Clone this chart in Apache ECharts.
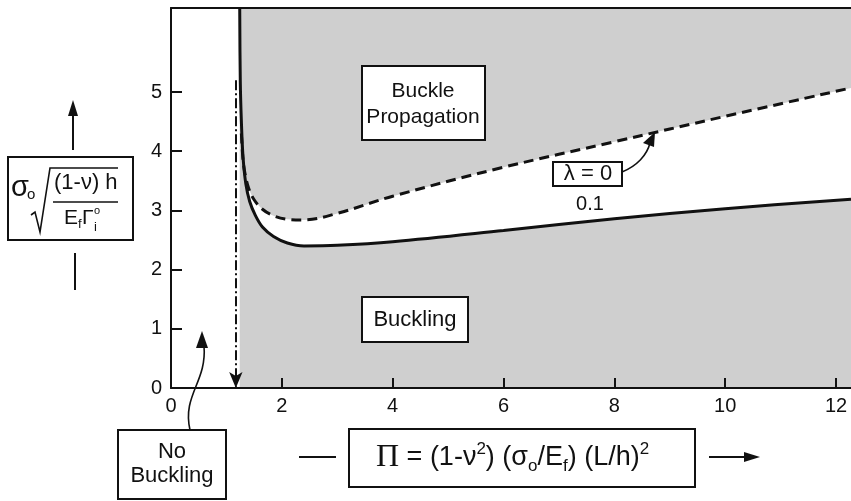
<!DOCTYPE html>
<html>
<head>
<meta charset="utf-8">
<script src="https://cdn.jsdelivr.net/npm/echarts@6/dist/echarts.min.js"></script>
<style>
  html, body { margin: 0; padding: 0; background: #fff; }
  #chart { width: 851px; height: 501px; }
</style>
</head>
<body>
<div id="chart"></div>
<script>
// axis ranges and ticks
const xMax = 12.27
const yMax = 6.42
const xLabels = [0, 2, 4, 6, 8, 10, 12]
const xTicks = [2, 4, 6, 8, 10, 12]
const yLabels = [0, 1, 2, 3, 4, 5]
const yTicks = [1, 2, 3, 4, 5]

// no buckling below this Pi, and the dash-dot guide just left of it
const noBucklingLimit = 1.24
const guideX = 1.17
const guideTop = 5.2

// lambda = 0.1 (solid) and lambda = 0 (dashed)
const solidCurve = [
  [1.24, 6.42], [1.25, 5.2], [1.27, 4.5], [1.3, 3.9], [1.35, 3.45], [1.42, 3.15],
  [1.52, 2.92], [1.65, 2.72], [1.85, 2.56], [2.1, 2.45], [2.4, 2.4], [3, 2.41],
  [4, 2.47], [6, 2.66], [8, 2.86], [10, 3.03], [12.27, 3.19]
]
const dashedCurve = [
  [1.27, 4.3], [1.3, 3.85], [1.34, 3.6], [1.4, 3.38], [1.5, 3.18], [1.65, 3.02],
  [1.85, 2.91], [2.1, 2.85], [2.4, 2.84], [3, 2.95], [4, 3.24], [6, 3.73],
  [8, 4.16], [10, 4.59], [12.27, 5.07]
]

const gray = '#cfcfcf'
const ink = '#111'
const sans = 'Liberation Sans, Arial, sans-serif'

var myChart = echarts.init(document.getElementById('chart'))

function box(x, y, w, h) {
  return { type: 'rect', shape: { x: x, y: y, width: w, height: h }, style: { fill: '#fff', stroke: ink, lineWidth: 2 }, z: 100 }
}
function txt(x, y, text, size, align, family) {
  return {
    type: 'text', z: 101,
    style: { x: x, y: y, text: text, fill: ink, font: size + 'px ' + (family || sans), textAlign: align || 'center', textVerticalAlign: 'middle' }
  }
}
function seg(x1, y1, x2, y2, w) {
  return { type: 'line', z: 101, shape: { x1: x1, y1: y1, x2: x2, y2: y2 }, style: { stroke: ink, lineWidth: w || 2 } }
}
function head(points) {
  return { type: 'polygon', z: 101, shape: { points: points }, style: { fill: ink } }
}

var option = {
  animation: false,
  grid: { left: 171, top: 8, width: 682, height: 380 },
  xAxis: [
    {
      type: 'value', min: 0, max: xMax, z: 10,
      axisLine: { lineStyle: { color: ink, width: 2 } },
      axisTick: { inside: true, length: 10, customValues: xTicks, lineStyle: { color: ink, width: 2 } },
      axisLabel: { customValues: xLabels, color: ink, fontFamily: sans, fontSize: 20, margin: 8 },
      splitLine: { show: false }
    },
    {
      type: 'value', position: 'top', min: 0, max: xMax, z: 10,
      axisLine: { lineStyle: { color: ink, width: 2 } },
      axisTick: { show: false }, axisLabel: { show: false }, splitLine: { show: false }
    }
  ],
  yAxis: {
    type: 'value', min: 0, max: yMax, z: 10,
    axisLine: { show: true, lineStyle: { color: ink, width: 2 } },
    axisTick: { show: true, inside: true, length: 11, customValues: yTicks, lineStyle: { color: ink, width: 2 } },
    axisLabel: { customValues: yLabels, color: ink, fontFamily: sans, fontSize: 20, margin: 9 },
    splitLine: { show: false }
  },
  series: [
    {
      // shaded buckling region
      type: 'line', silent: true, symbol: 'none',
      data: [[noBucklingLimit, yMax], [xMax, yMax]],
      lineStyle: { width: 0 }, areaStyle: { color: gray, opacity: 1 }
    },
    {
      // white band between the curves
      type: 'line', silent: true, symbol: 'none', smooth: 0.35,
      data: dashedCurve,
      lineStyle: { width: 0 }, areaStyle: { color: '#fff', opacity: 1 }
    },
    {
      type: 'line', silent: true, symbol: 'none', smooth: 0.35,
      data: solidCurve,
      lineStyle: { color: ink, width: 3 }, areaStyle: { color: gray, opacity: 1 }
    },
    {
      type: 'line', silent: true, symbol: 'none', smooth: 0.35,
      data: dashedCurve,
      lineStyle: { color: ink, width: 3, type: [10, 6] }
    },
    {
      type: 'line', silent: true, symbol: 'none', data: [],
      markLine: {
        silent: true, symbol: ['none', 'arrow'], symbolSize: [10, 16], label: { show: false },
        lineStyle: { color: ink, width: 2, type: [10, 3, 2, 3] },
        data: [[{ coord: [guideX, guideTop] }, { coord: [guideX, 0] }]]
      }
    }
  ],
  graphic: [
    // y axis label
    box(8, 157, 125, 83),
    txt(11, 188, 'σ', 29, 'left'),
    txt(27, 195, 'o', 15, 'left'),
    { type: 'polyline', z: 101, shape: { points: [[31, 215], [35, 212], [40, 232], [50, 168], [118, 168]] }, style: { stroke: ink, lineWidth: 1.6, fill: null } },
    txt(54, 183, '(1-ν) h', 22, 'left'),
    seg(53, 202, 118, 202, 1.6),
    txt(64, 218, 'E', 21, 'left'),
    txt(78, 224, 'f', 13, 'left'),
    txt(82, 218, 'Γ', 21, 'left'),
    txt(94, 227, 'i', 13, 'left'),
    txt(94, 211, 'o', 11, 'left'),
    seg(73, 150, 73, 112, 2),
    head([[73, 100], [68, 116], [78, 116]]),
    seg(75, 253, 75, 290, 2),

    // x axis label
    box(349, 429, 346, 58),
    {
      type: 'text', z: 101,
      style: {
        x: 376, y: 458, textAlign: 'left', textVerticalAlign: 'middle', fill: ink,
        text: '{P|Π}{n| = (1-ν}{sup|2}{n|) (σ}{sub|o}{n|/E}{sub|f}{n|) (L/h)}{sup|2}',
        rich: {
          P: { fontFamily: 'Liberation Serif, serif', fontSize: 32, lineHeight: 34 },
          n: { fontFamily: sans, fontSize: 27, lineHeight: 34 },
          sup: { fontFamily: sans, fontSize: 17, lineHeight: 34, verticalAlign: 'top' },
          sub: { fontFamily: sans, fontSize: 17, lineHeight: 34, verticalAlign: 'bottom' }
        }
      }
    },
    seg(299, 457, 336, 457, 2),
    seg(709, 457, 748, 457, 2),
    head([[760, 457], [744, 452], [744, 462]]),

    // regions
    box(362, 66, 123, 74),
    txt(423, 91, 'Buckle', 21),
    txt(423, 117, 'Propagation', 21),
    box(362, 297, 106, 45),
    txt(415, 320, 'Buckling', 22),

    // no buckling
    box(118, 430, 108, 69),
    txt(172, 452, 'No', 22),
    txt(172, 476, 'Buckling', 22),
    { type: 'bezierCurve', z: 101, shape: { x1: 190, y1: 430, cpx1: 182, cpy1: 395, cpx2: 207, cpy2: 382, x2: 204, y2: 346 }, style: { stroke: ink, lineWidth: 1.6, fill: null } },
    head([[202, 331], [196, 348], [208, 348]]),

    // lambda labels
    box(553, 162, 69, 24),
    txt(588, 174, 'λ = 0', 22),
    txt(590, 204, '0.1', 20),
    { type: 'bezierCurve', z: 101, shape: { x1: 622, y1: 172, cpx1: 637, cpy1: 166, cpx2: 647, cpy2: 155, x2: 650, y2: 143 }, style: { stroke: ink, lineWidth: 1.6, fill: null } },
    head([[655, 132], [643, 143], [654, 147]])
  ]
}

myChart.setOption(option)
window.addEventListener('resize', () => {
  myChart.resize()
})
</script>
</body>
</html>
